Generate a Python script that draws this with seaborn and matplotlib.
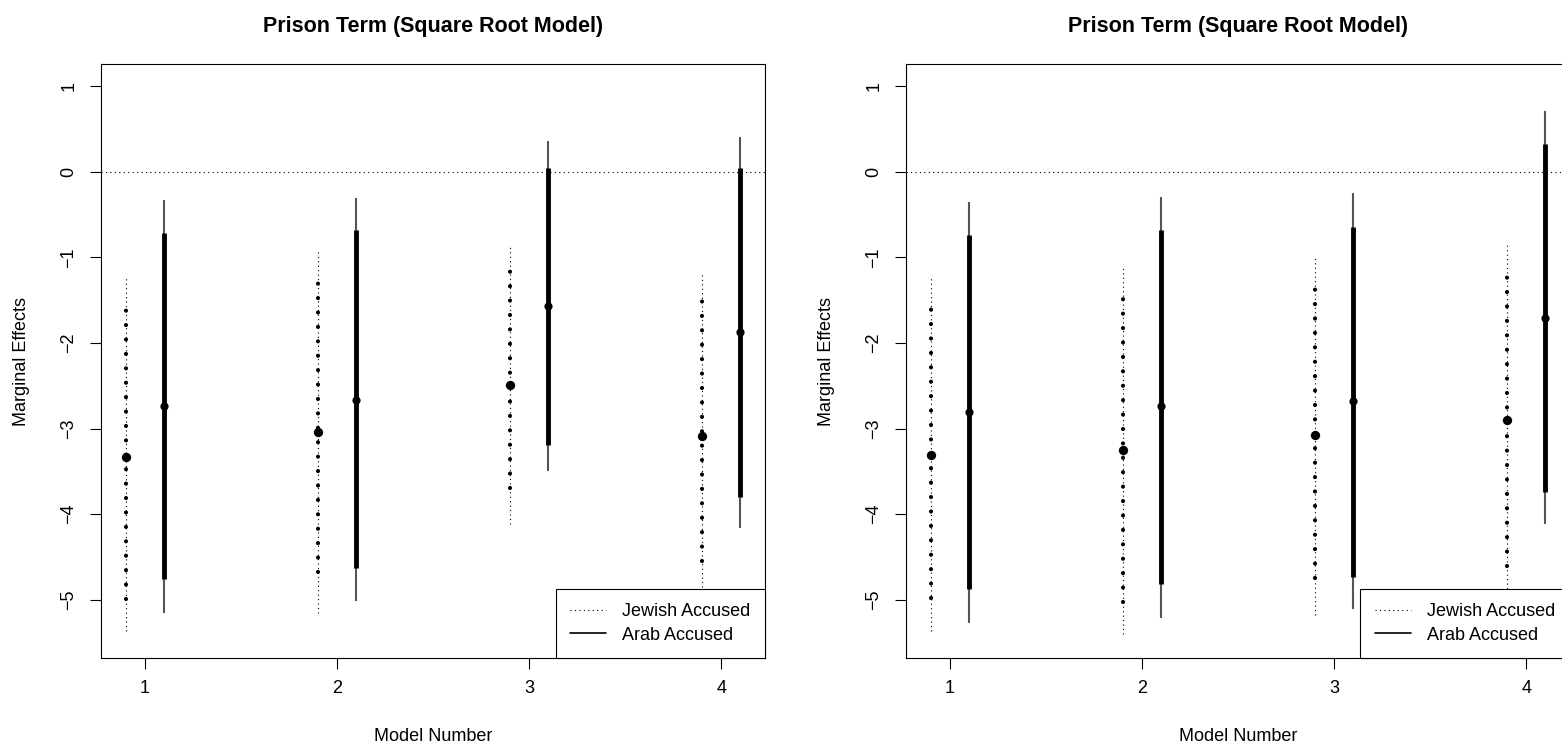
import numpy as np
import pandas as pd
import matplotlib
matplotlib.use("Agg")
import matplotlib.pyplot as plt
import seaborn as sns
from matplotlib.lines import Line2D

sns.set_theme(style="white")
plt.rcParams['font.family'] = ['Liberation Sans', 'DejaVu Sans']
plt.rcParams['text.color'] = 'black'
plt.rcParams['axes.labelcolor'] = 'black'
plt.rcParams['xtick.color'] = 'black'
plt.rcParams['ytick.color'] = 'black'

models = [1, 2, 3, 4]
groups = ["Jewish Accused", "Arab Accused"]

# Panel 1 (left)
p1_jew_est = [-3.33, -3.04, -2.49, -3.09]
p1_jew_lo90 = [-4.99, -4.67, -3.69, -4.55]
p1_jew_hi90 = [-1.59, -1.27, -1.14, -1.50]
p1_jew_lo95 = [-5.37, -5.16, -4.12, -4.95]
p1_jew_hi95 = [-1.24, -0.90, -0.87, -1.18]
p1_arab_est = [-2.74, -2.66, -1.57, -1.87]
p1_arab_lo90 = [-4.76, -4.63, -3.19, -3.80]
p1_arab_hi90 = [-0.72, -0.68, 0.05, 0.04]
p1_arab_lo95 = [-5.15, -5.01, -3.50, -4.16]
p1_arab_hi95 = [-0.33, -0.30, 0.36, 0.41]

# Panel 2 (right)
p2_jew_est = [-3.31, -3.25, -3.08, -2.90]
p2_jew_lo90 = [-4.98, -5.02, -4.74, -4.60]
p2_jew_hi90 = [-1.57, -1.44, -1.34, -1.19]
p2_jew_lo95 = [-5.36, -5.40, -5.18, -4.92]
p2_jew_hi95 = [-1.24, -1.10, -0.99, -0.86]
p2_arab_est = [-2.81, -2.74, -2.68, -1.71]
p2_arab_lo90 = [-4.87, -4.81, -4.73, -3.74]
p2_arab_hi90 = [-0.74, -0.68, -0.64, 0.32]
p2_arab_lo95 = [-5.27, -5.21, -5.11, -4.12]
p2_arab_hi95 = [-0.35, -0.29, -0.25, 0.71]

title = "Prison Term (Square Root Model)"
xlabel = "Model Number"
ylabel = "Marginal Effects"
yticks = [-5, -4, -3, -2, -1, 0, 1]

panels = [
    (p1_jew_est, p1_jew_lo90, p1_jew_hi90, p1_jew_lo95, p1_jew_hi95,
     p1_arab_est, p1_arab_lo90, p1_arab_hi90, p1_arab_lo95, p1_arab_hi95),
    (p2_jew_est, p2_jew_lo90, p2_jew_hi90, p2_jew_lo95, p2_jew_hi95,
     p2_arab_est, p2_arab_lo90, p2_arab_hi90, p2_arab_lo95, p2_arab_hi95),
]

W, H = 1562, 753
fig = plt.figure(figsize=(W / 100, H / 100), dpi=100)
fig.patch.set_facecolor("white")

ax_w = 664 / W
ax_h = 594 / H
ax_b = (H - 658) / H
lefts = [101 / W, 906 / W]

FS = 13
offset = 0.1

for left, pdata in zip(lefts, panels):
    (je, jl9, jh9, jl5, jh5, ae, al9, ah9, al5, ah5) = pdata
    ax = fig.add_axes([left, ax_b, ax_w, ax_h])
    xj = np.array(models) - offset
    xa = np.array(models) + offset

    # zero reference line
    ax.axhline(0, color="black", lw=0.8, linestyle=(0, (1, 3)), zorder=1)

    # Jewish: thin dotted outer, thick dotted inner
    ax.vlines(xj, jl5, jh5, colors="black", lw=0.8, linestyles=[(0, (1, 3))], zorder=2)
    lc = ax.vlines(xj, jl9, jh9, colors="black", lw=3.0, linestyles=[(0, (0.01, 3.45))], zorder=3)
    lc.set_capstyle("round")

    # Arab: thin solid grey outer, thick black inner
    ax.vlines(xa, al5, ah5, colors="#555555", lw=1.5, zorder=2)
    ax.vlines(xa, al9, ah9, colors="black", lw=3.5, zorder=3)

    df = pd.DataFrame({
        "x": np.concatenate([xj, xa]),
        "y": list(je) + list(ae),
        "group": [groups[0]] * 4 + [groups[1]] * 4,
    })
    sns.scatterplot(data=df[df.group == groups[0]], x="x", y="y", ax=ax,
                    color="black", s=45, edgecolor="black", linewidth=0, zorder=5, legend=False)
    sns.scatterplot(data=df[df.group == groups[1]], x="x", y="y", ax=ax,
                    color="black", s=35, edgecolor="black", linewidth=0, zorder=5, legend=False)

    ax.set_xlim(0.772, 4.228)
    ax.set_ylim(-5.68, 1.26)
    ax.set_xticks(models)
    ax.set_xticklabels([str(m) for m in models], fontsize=FS)
    ax.set_yticks(yticks)
    ax.set_yticklabels([f"\u2212{abs(t)}" if t < 0 else str(t) for t in yticks],
                       fontsize=FS, rotation=90, va="center")
    ax.tick_params(axis="both", direction="out", length=8, width=0.8, color="black",
                   left=True, bottom=True, labelcolor="black")
    ax.tick_params(axis="y", pad=9)
    ax.tick_params(axis="x", pad=8)
    for sp in ax.spines.values():
        sp.set_visible(True)
        sp.set_color("black")
        sp.set_linewidth(0.8)
    ax.set_xlabel(xlabel, fontsize=FS, labelpad=22, color="black")
    ax.set_ylabel(ylabel, fontsize=FS, labelpad=22, color="black")
    ax.set_title(title, fontsize=15.5, fontweight="bold", pad=23, color="black")

    handles = [
        Line2D([0], [0], color="black", lw=0.8, linestyle=(0, (1, 3))),
        Line2D([0], [0], color="black", lw=1.2),
    ]
    leg = ax.legend(handles, groups, loc="lower right", fontsize=FS,
                    frameon=True, fancybox=False, framealpha=1, edgecolor="black",
                    borderaxespad=0, handlelength=2.0, handletextpad=0.9,
                    labelspacing=0.35, borderpad=0.8, labelcolor="black")
    leg.get_frame().set_linewidth(0.8)
    leg.set_zorder(10)

fig.savefig("out.png", dpi=100, facecolor="white")
